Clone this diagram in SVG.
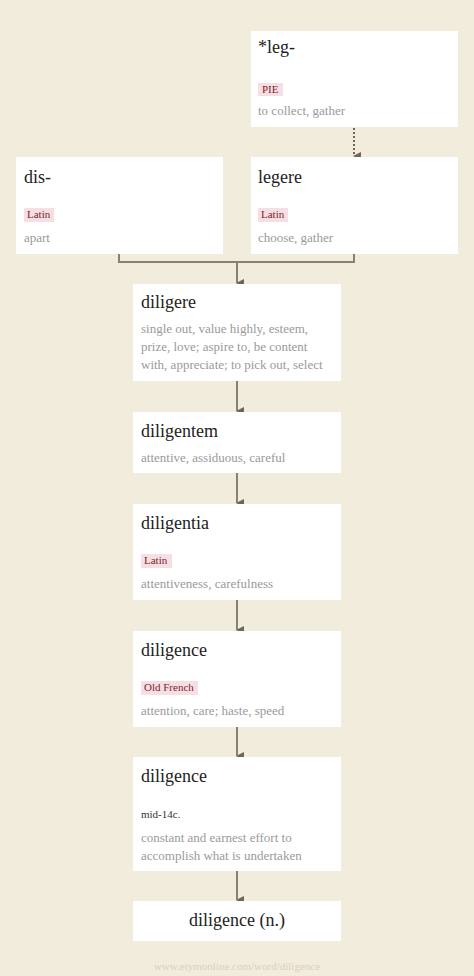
<svg xmlns="http://www.w3.org/2000/svg" width="474" height="976" viewBox="0 0 474 976">
<defs>
<style>
.box{fill:#ffffff}
.t{font-family:"Liberation Serif",serif;font-size:18px;fill:#222}
.d{font-family:"Liberation Serif",serif;font-size:13px;fill:#9a9a9a}
.bg{fill:#f6dfe2}
.bt{font-family:"Liberation Serif",serif;font-size:11px;fill:#7a1f2e}
.dt{font-family:"Liberation Serif",serif;font-size:11px;fill:#333}
.c{stroke:#8a8270;stroke-width:2;fill:none}
.ft{font-family:"Liberation Serif",serif;font-size:11px;fill:#d9d1bf}
</style>
<marker id="ah" markerWidth="8" markerHeight="8" refX="4" refY="7" orient="auto" markerUnits="userSpaceOnUse" viewBox="0 0 8 8">
<path d="M0,0 L8,0 L4,8 z" fill="#6e6656"/>
</marker>
</defs>
<rect width="474" height="976" fill="#f2ecdc"/>
<g id="connectors">
<line x1="354" y1="128" x2="354" y2="156" stroke="#6e6656" stroke-width="2" stroke-dasharray="2,2" marker-end="url(#ah)"/>
<path class="c" d="M119,254 V262 H354 V254"/>
<line class="c" x1="237" y1="262" x2="237" y2="283" marker-end="url(#ah)"/>
<line class="c" x1="237" y1="381" x2="237" y2="411" marker-end="url(#ah)"/>
<line class="c" x1="237" y1="473" x2="237" y2="503" marker-end="url(#ah)"/>
<line class="c" x1="237" y1="600" x2="237" y2="630" marker-end="url(#ah)"/>
<line class="c" x1="237" y1="727" x2="237" y2="756" marker-end="url(#ah)"/>
<line class="c" x1="237" y1="871" x2="237" y2="900" marker-end="url(#ah)"/>
</g>
<g id="n-leg">
<rect class="box" x="251" y="31" width="207" height="96"/>
<text class="t" x="258" y="53">*leg-</text>
<rect class="bg" x="258" y="83" width="25" height="13"/>
<text class="bt" x="262" y="92.5">PIE</text>
<text class="d" x="258" y="115">to collect, gather</text>
</g>
<g id="n-dis">
<rect class="box" x="16" y="157" width="207" height="97"/>
<text class="t" x="24" y="183">dis-</text>
<rect class="bg" x="24" y="208" width="30" height="14"/>
<text class="bt" x="27" y="218">Latin</text>
<text class="d" x="24" y="242">apart</text>
</g>
<g id="n-legere">
<rect class="box" x="251" y="157" width="207" height="97"/>
<text class="t" x="258" y="183">legere</text>
<rect class="bg" x="258" y="208" width="30" height="14"/>
<text class="bt" x="261" y="218">Latin</text>
<text class="d" x="258" y="242">choose, gather</text>
</g>
<g id="n-diligere">
<rect class="box" x="133" y="284" width="208" height="97"/>
<text class="t" x="141" y="308">diligere</text>
<text class="d" x="141" y="333">single out, value highly, esteem,</text>
<text class="d" x="141" y="351">prize, love; aspire to, be content</text>
<text class="d" x="141" y="369">with, appreciate; to pick out, select</text>
</g>
<g id="n-diligentem">
<rect class="box" x="133" y="412" width="208" height="61"/>
<text class="t" x="141" y="437">diligentem</text>
<text class="d" x="141" y="462">attentive, assiduous, careful</text>
</g>
<g id="n-diligentia">
<rect class="box" x="133" y="504" width="208" height="96"/>
<text class="t" x="141" y="529">diligentia</text>
<rect class="bg" x="141" y="554" width="31" height="14"/>
<text class="bt" x="144" y="564">Latin</text>
<text class="d" x="141" y="588">attentiveness, carefulness</text>
</g>
<g id="n-diligence-of">
<rect class="box" x="133" y="631" width="208" height="96"/>
<text class="t" x="141" y="656">diligence</text>
<rect class="bg" x="141" y="681" width="57" height="14"/>
<text class="bt" x="144" y="691">Old French</text>
<text class="d" x="141" y="715">attention, care; haste, speed</text>
</g>
<g id="n-diligence">
<rect class="box" x="133" y="757" width="208" height="114"/>
<text class="t" x="141" y="782">diligence</text>
<text class="dt" x="141" y="818">mid-14c.</text>
<text class="d" x="141" y="842">constant and earnest effort to</text>
<text class="d" x="141" y="860">accomplish what is undertaken</text>
</g>
<g id="n-diligence-n">
<rect class="box" x="133" y="901" width="208" height="40"/>
<text class="t" x="237" y="926" text-anchor="middle">diligence (n.)</text>
</g>
<text class="ft" x="237" y="970" text-anchor="middle">www.etymonline.com/word/diligence</text>
</svg>
